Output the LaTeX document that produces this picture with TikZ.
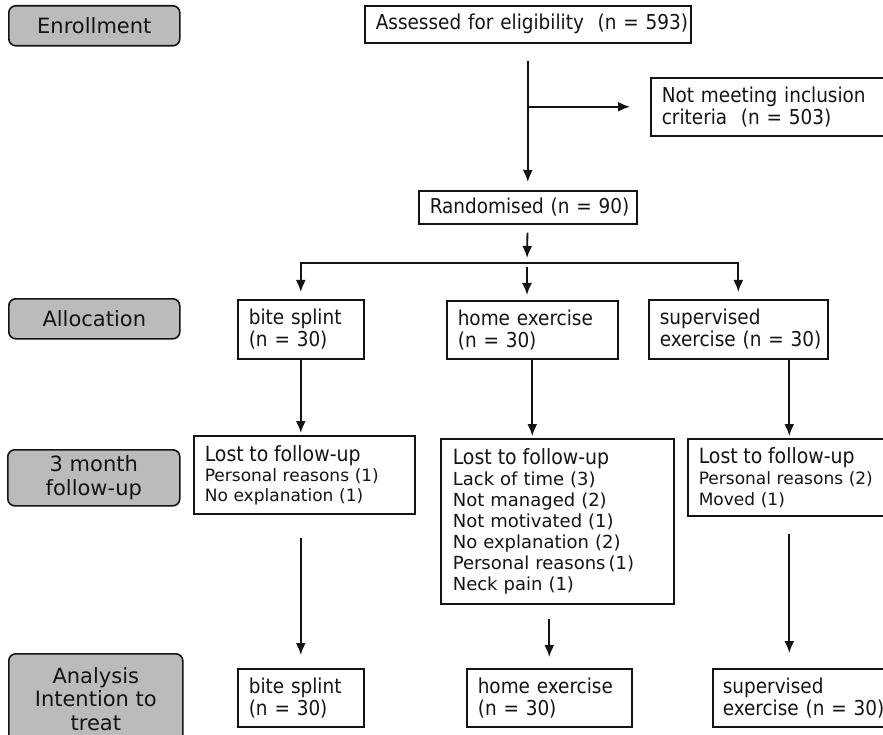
\documentclass[tikz,border=0pt]{standalone}
\usepackage{fontspec}
\setmainfont{DejaVu Sans}
\newfontfamily\narrowfont{DejaVu Sans Condensed}
\usetikzlibrary{arrows.meta}
\definecolor{stagegray}{RGB}{187,187,187}
\definecolor{inkgray}{RGB}{20,20,20}
\tikzset{
  stage/.style={draw=inkgray,fill=stagegray,line width=1.6pt,rounded corners=7pt,
    align=center,anchor=north west,inner sep=0pt,text=inkgray,
    font=\fontsize{21}{24}\selectfont},
  group/.style={draw=inkgray,line width=1.6pt,align=left,anchor=north west,
    inner xsep=11pt,inner ysep=0pt,text=inkgray,
    font=\narrowfont\fontsize{20.5}{22}\selectfont},
  lost/.style={group,font=\fontsize{17}{20}\selectfont},
  flow/.style={draw=inkgray,line width=1.8pt,-{Latex[length=12pt,width=10pt]}},
}
\newcommand{\losthead}{{\narrowfont\fontsize{21}{21}\selectfont Lost to follow-up}}
\begin{document}
\begin{tikzpicture}[x=1pt,y=-1pt]
\useasboundingbox (0,0) rectangle (883,735);
\clip (0,0) rectangle (883,735);
% stages
\node[stage,minimum width=171pt,minimum height=40pt] (enrol) at (8,5) {Enrollment};
\node[stage,minimum width=171pt,minimum height=40pt] (alloc) at (8,298) {Allocation};
\node[stage,minimum width=172pt,minimum height=56pt] (follow) at (7,449) {3 month\\follow-up};
\node[stage,minimum width=174pt,minimum height=90pt,font=\fontsize{21}{23.5}\selectfont] (analysis) at (8,653) {Analysis\\Intention to\\treat};
% enrollment
\node[group,text width=304pt,minimum height=37pt] (assessed) at (364,5) {\mbox{Assessed for eligibility\ \ (n~=~593)}};
\node[group,text width=223pt,minimum height=58pt] (notmeet) at (650,77) {\mbox{Not meeting inclusion}\\\mbox{criteria\ \ (n~=~503)}};
\node[group,text width=196pt,minimum height=33pt] (rand) at (418,190) {\mbox{Randomised (n~=~90)}};
% allocation
\node[group,text width=104pt,minimum height=59pt] (bite) at (237,299) {bite splint\\(n~=~30)};
\node[group,text width=149pt,minimum height=58pt] (home) at (446,300) {\mbox{home exercise}\\(n~=~30)};
\node[group,inner xsep=11pt,text width=157pt,minimum height=59pt] (super) at (648,299) {supervised\\\mbox{exercise (n~=~30)}};
% follow-up
\node[lost,text width=199pt,minimum height=78pt] (lostbite) at (193,435) {\losthead\\Personal reasons (1)\\No explanation (1)};
\node[lost,inner xsep=12pt,text width=209pt,minimum height=165pt,font=\fontsize{18}{21}\selectfont] (losthome) at (440,438)
  {\losthead\\Lack of time (3)\\Not managed (2)\\Not motivated (1)\\No explanation (2)\\Personal reasons\,(1)\\Neck pain (1)};
\node[lost,text width=181pt,minimum height=77pt,font=\fontsize{17}{21}\selectfont] (lostsuper) at (687,438) {\losthead\\\mbox{Personal reasons (2)}\\Moved (1)};
% analysis
\node[group,text width=104pt,minimum height=58pt] (bitett) at (237,668) {bite splint\\(n~=~30)};
\node[group,text width=143pt,minimum height=58pt] (homett) at (466,668) {\mbox{home exercise}\\(n~=~30)};
\node[group,inner xsep=10pt,text width=160pt,minimum height=58pt] (superitt) at (712,668) {supervised\\\mbox{exercise (n~=~30)}};
% connectors
\coordinate (split) at (527,263);
\draw[flow,shorten <=17pt,shorten >=8pt] (assessed) -- (rand);
\draw[flow,shorten >=20pt] (assessed.south |- notmeet.west) -- (notmeet.west);
\draw[flow,shorten <=8pt,shorten >=5pt] (rand) -- (split);
\draw[flow,shorten >=7pt] (split) -| (bite.north);
\draw[flow,shorten >=7pt] (split) -| (super.north);
\draw[flow,shorten <=4pt,shorten >=5pt] (split) -- (split |- home.north);
\draw[flow,shorten >=2pt] (bite.south) -- (bite.south |- lostbite.north);
\draw[flow,shorten >=2pt] (home.south) -- (home.south |- losthome.north);
\draw[flow,shorten >=2pt] (lostsuper.north |- super.south) -- (lostsuper.north);
\draw[flow,shorten <=23pt,shorten >=13pt] (bitett.north |- lostbite.south) -- (bitett.north);
\draw[flow,shorten <=14pt,shorten >=11pt] (homett.north |- losthome.south) -- (homett.north);
\draw[flow,shorten <=17pt,shorten >=15pt] (lostsuper.south) -- (lostsuper.south |- superitt.north);
\end{tikzpicture}
\end{document}
